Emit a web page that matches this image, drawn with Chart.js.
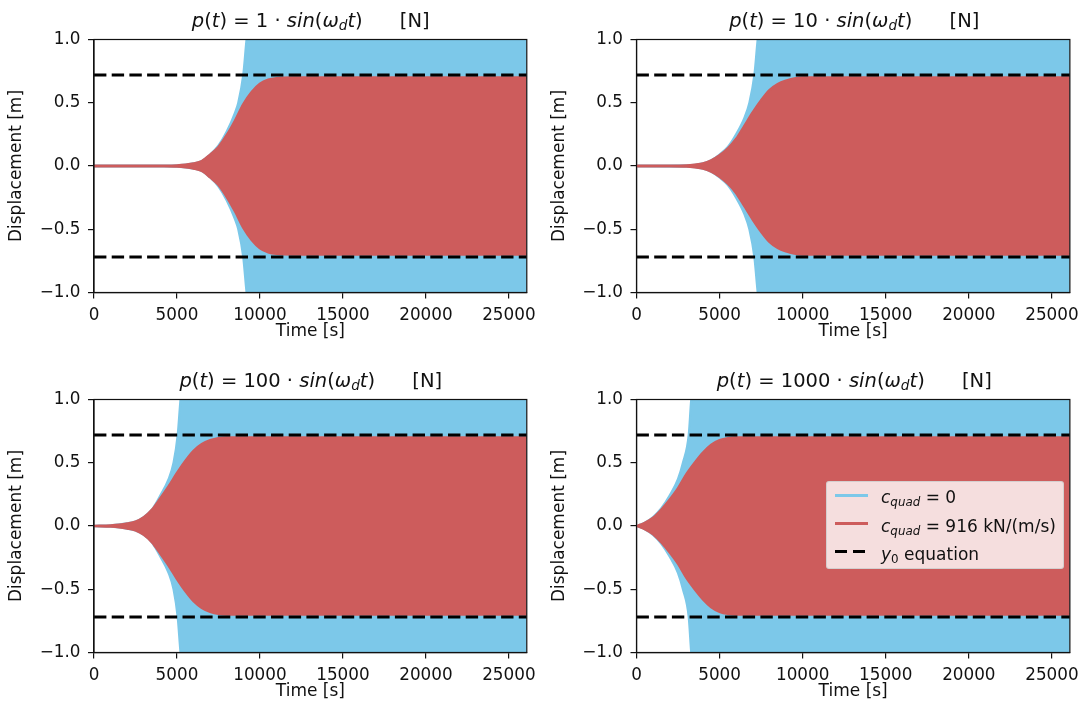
<!DOCTYPE html>
<html>
<head>
<meta charset="utf-8">
<title>Forced response with and without quadratic damping</title>
<script src="https://cdn.jsdelivr.net/npm/chart.js@4.4.1/dist/chart.umd.min.js"></script>
<style>
  html, body { margin: 0; padding: 0; background: #fff; }
  #figure { position: relative; width: 1086px; height: 715px; overflow: hidden;
            font-family: "DejaVu Sans", sans-serif; color: #111; }
  #figure canvas { position: absolute; }
  .title { position: absolute; width: 440px; text-align: center; font-size: 19.5px;
           line-height: 24px; white-space: pre; }
  .mi { font-style: italic; }
  sub { font-size: 70%; line-height: 0; vertical-align: -0.25em; }
  #legend { position: absolute; left: 826px; top: 481px; width: 238px; height: 88px;
            box-sizing: border-box; background: rgba(255,255,255,0.8);
            border: 1px solid rgba(204,204,204,0.8); border-radius: 3px; font-size: 17px; }
  .entry { position: absolute; left: 54px; line-height: 24px; height: 24px; white-space: pre; }
  .handle { position: absolute; height: 3px; }
</style>
</head>
<body>
<div id="figure"></div>
<script>
// ---- axes ----
const timeMax = 26080;
const xTicks = [0, 5000, 10000, 15000, 20000, 25000];
const xTickLabels = ['0', '5000', '10000', '15000', '20000', '25000'];
const yTicks = [-1, -0.5, 0, 0.5, 1];
const yTickLabels = ['\u22121.0', '\u22120.5', '0.0', '0.5', '1.0'];

// ---- load amplitudes of p(t) = P0 · sin(ω_d t) ----
const forceAmplitudes = ['1', '10', '100', '1000'];

// steady-state amplitude from the y0 equation [m]
const y0Levels = [0.72, 0.72, 0.72, 0.72];

// response envelope (amplitude, m) with c_quad = 916 kN/(m/s)
const time1Damped = [0, 2000, 4000, 5000, 5500, 6000, 6500, 7000, 7500, 8000, 8500, 9000, 9500, 10000, 10500, 11000, 12000, 14000, 26080];
const amp1Damped  = [0.002, 0.002, 0.003, 0.005, 0.01, 0.02, 0.04, 0.09, 0.15, 0.245, 0.36, 0.49, 0.585, 0.65, 0.682, 0.695, 0.70, 0.70, 0.70];

const time2Damped = [0, 2000, 3000, 3500, 4000, 4500, 5000, 5500, 6000, 6500, 7000, 7500, 8000, 8500, 9000, 9500, 10000, 12000, 26080];
const amp2Damped  = [0.002, 0.002, 0.004, 0.01, 0.02, 0.045, 0.085, 0.14, 0.215, 0.32, 0.425, 0.52, 0.6, 0.648, 0.675, 0.692, 0.70, 0.70, 0.70];

const time3Damped = [0, 1000, 1500, 2000, 2500, 3000, 3500, 4000, 4500, 5000, 5500, 6000, 6500, 7000, 7500, 8000, 10000, 26080];
const amp3Damped  = [0.001, 0.005, 0.01, 0.02, 0.035, 0.07, 0.13, 0.22, 0.315, 0.42, 0.515, 0.595, 0.648, 0.678, 0.695, 0.70, 0.70, 0.70];

const time4Damped = [0, 250, 500, 1000, 1500, 2000, 2500, 3000, 3500, 4000, 4500, 5000, 5500, 6000, 8000, 26080];
const amp4Damped  = [0, 0.01, 0.025, 0.065, 0.13, 0.21, 0.30, 0.41, 0.50, 0.58, 0.642, 0.678, 0.695, 0.70, 0.70, 0.70];

// response envelope (amplitude, m) with c_quad = 0
const time1Free = [0, 4000, 5000, 6000, 6500, 7000, 7500, 8000, 8500, 8700, 9000, 9200, 9500, 10500, 26080];
const amp1Free  = [0.002, 0.003, 0.005, 0.02, 0.04, 0.09, 0.16, 0.27, 0.42, 0.5, 0.72, 1.0, 1.3, 1.7, 3.0];

const time2Free = [0, 3000, 4000, 4500, 5000, 5500, 6000, 6500, 6800, 7100, 7300, 7600, 9000, 26080];
const amp2Free  = [0.002, 0.004, 0.02, 0.045, 0.09, 0.15, 0.25, 0.38, 0.5, 0.72, 1.0, 1.3, 1.8, 3.0];

const time3Free = [0, 1000, 2000, 2500, 3000, 3500, 4000, 4500, 4800, 5050, 5220, 5500, 7000, 26080];
const amp3Free  = [0.001, 0.005, 0.02, 0.035, 0.07, 0.13, 0.24, 0.37, 0.5, 0.72, 1.0, 1.3, 1.8, 3.0];

const time4Free = [0, 500, 1000, 1500, 2000, 2500, 2800, 3150, 3300, 3600, 5000, 26080];
const amp4Free  = [0, 0.025, 0.07, 0.14, 0.24, 0.37, 0.5, 0.72, 1.0, 1.3, 1.8, 3.0];

// ---- styling ----
const BLUE = 'rgb(124, 200, 233)';
const RED = 'rgb(205, 92, 92)';
const INK = '#111';
const TICK_FONT = { family: 'DejaVu Sans', size: 16.8 };
const LABEL_FONT = { family: 'DejaVu Sans', size: 17 };
const X_AXIS_H = 53.6;
const PAD_LEFT = 2.4;

const panels = [
  { box: { x: 0,   y: 0,   w: 543, h: 357 }, area: { L: 94,    T: 39.5,  R: 527.5, B: 292.5 },
    tD: time1Damped, aD: amp1Damped, tF: time1Free, aF: amp1Free },
  { box: { x: 543, y: 0,   w: 543, h: 357 }, area: { L: 636.5, T: 39.5,  R: 1072,  B: 292.5 },
    tD: time2Damped, aD: amp2Damped, tF: time2Free, aF: amp2Free },
  { box: { x: 0,   y: 357, w: 543, h: 358 }, area: { L: 94,    T: 399.5, R: 527.5, B: 652.5 },
    tD: time3Damped, aD: amp3Damped, tF: time3Free, aF: amp3Free },
  { box: { x: 543, y: 357, w: 543, h: 358 }, area: { L: 636.5, T: 399.5, R: 1072,  B: 652.5 },
    tD: time4Damped, aD: amp4Damped, tF: time4Free, aF: amp4Free }
];

// upper (+1) or lower (-1) edge of an oscillation envelope
function envelope(times, amps, side) {
  return times.map((t, i) => ({ x: t, y: side * amps[i] }));
}

// all four spines drawn over the data
const framePlugin = {
  id: 'frame',
  afterDatasetsDraw(chart) {
    const { ctx, chartArea: a } = chart;
    ctx.save();
    ctx.strokeStyle = INK;
    ctx.lineWidth = 1.2;
    ctx.strokeRect(a.left, a.top, a.right - a.left, a.bottom - a.top);
    ctx.restore();
  }
};

const fig = document.getElementById('figure');

panels.forEach((p, k) => {
  const canvas = document.createElement('canvas');
  canvas.width = p.box.w; canvas.height = p.box.h;
  canvas.style.left = p.box.x + 'px'; canvas.style.top = p.box.y + 'px';
  canvas.style.width = p.box.w + 'px'; canvas.style.height = p.box.h + 'px';
  fig.appendChild(canvas);

  const y0 = y0Levels[k];
  const common = { pointRadius: 0, pointHoverRadius: 0, clip: 0, cubicInterpolationMode: 'monotone' };
  const datasets = [
    { ...common, label: 'y0 equation', data: [{ x: 0, y: y0 }, { x: timeMax, y: y0 }],
      borderColor: '#000', borderWidth: 3, borderDash: [12.4, 5.3], borderCapStyle: 'butt', fill: false, order: 0 },
    { ...common, label: 'y0 equation (lower)', data: [{ x: 0, y: -y0 }, { x: timeMax, y: -y0 }],
      borderColor: '#000', borderWidth: 3, borderDash: [12.4, 5.3], borderCapStyle: 'butt', fill: false, order: 0 },
    { ...common, label: 'c_quad = 916 kN/(m/s)', data: envelope(p.tD, p.aD, 1),
      borderColor: RED, backgroundColor: RED, borderWidth: 2.4, fill: '+1', order: 1 },
    { ...common, label: 'c_quad = 916 kN/(m/s) (lower)', data: envelope(p.tD, p.aD, -1),
      borderColor: RED, backgroundColor: RED, borderWidth: 2.4, fill: false, order: 1 },
    { ...common, label: 'c_quad = 0', data: envelope(p.tF, p.aF, 1),
      borderColor: BLUE, backgroundColor: BLUE, borderWidth: 2.4, fill: '+1', order: 2 },
    { ...common, label: 'c_quad = 0 (lower)', data: envelope(p.tF, p.aF, -1),
      borderColor: BLUE, backgroundColor: BLUE, borderWidth: 2.4, fill: false, order: 2 }
  ];

  const axisLine = { display: true, color: INK, width: 1.2 };
  const tickMarks = { display: true, drawOnChartArea: false, drawTicks: true, tickLength: 6,
                      lineWidth: 1.2, color: INK };

  new Chart(canvas, {
    type: 'line',
    data: { datasets },
    options: {
      responsive: false,
      animation: false,
      devicePixelRatio: 1,
      events: [],
      layout: {
        padding: {
          left: PAD_LEFT,
          top: p.area.T - p.box.y,
          right: p.box.x + p.box.w - p.area.R,
          bottom: p.box.y + p.box.h - p.area.B - X_AXIS_H
        }
      },
      plugins: { legend: { display: false }, tooltip: { enabled: false }, title: { display: false } },
      scales: {
        x: {
          type: 'linear', min: 0, max: timeMax,
          afterBuildTicks: s => { s.ticks = xTicks.map(v => ({ value: v })); },
          afterFit: s => { s.height = X_AXIS_H; },
          ticks: { autoSkip: false, maxRotation: 0, padding: 6.8, color: INK, font: TICK_FONT,
                   callback: (v, i) => xTickLabels[i] },
          grid: tickMarks, border: axisLine,
          title: { display: true, text: 'Time [s]', color: INK, font: LABEL_FONT, padding: { top: 4, bottom: 4 } }
        },
        y: {
          type: 'linear', min: -1, max: 1,
          afterBuildTicks: s => { s.ticks = yTicks.map(v => ({ value: v })); },
          afterFit: s => { s.width = p.area.L - p.box.x - PAD_LEFT; },
          ticks: { autoSkip: false, padding: 7.5, color: INK, font: TICK_FONT,
                   callback: (v, i) => yTickLabels[i] },
          grid: tickMarks, border: axisLine,
          title: { display: true, text: 'Displacement [m]', color: INK, font: LABEL_FONT, padding: { top: 4, bottom: 4 } }
        }
      }
    },
    plugins: [framePlugin]
  });

  // panel title: p(t) = P0 · sin(ω_d t)   [N]
  const title = document.createElement('div');
  title.className = 'title';
  const cx = (p.area.L + p.area.R) / 2;
  const baseline = p.area.T - 12;
  title.style.left = (cx - 220) + 'px';
  title.style.top = (baseline - 18.8) + 'px';
  title.innerHTML = '<span class="mi">p</span>(<span class="mi">t</span>) = ' + forceAmplitudes[k] +
    ' \u00b7 <span class="mi">sin</span>(<span class="mi">\u03c9<sub>d</sub>t</span>)      [N]';
  fig.appendChild(title);
});

// legend (lower-right panel)
const legend = document.createElement('div');
legend.id = 'legend';
legend.innerHTML =
  '<div class="handle" style="left:8px;top:11.5px;width:33px;background:' + BLUE + '"></div>' +
  '<div class="entry" style="top:3.4px"><span class="mi">c<sub>quad</sub></span> = 0</div>' +
  '<div class="handle" style="left:8px;top:39.9px;width:33px;background:' + RED + '"></div>' +
  '<div class="entry" style="top:31.6px"><span class="mi">c<sub>quad</sub></span> = 916 kN/(m/s)</div>' +
  '<div class="handle" style="left:8px;top:68.2px;width:12.4px;background:#000"></div>' +
  '<div class="handle" style="left:25.7px;top:68.2px;width:12.4px;background:#000"></div>' +
  '<div class="entry" style="top:59.8px"><span class="mi">y</span><sub>0</sub> equation</div>';
fig.appendChild(legend);
</script>
</body>
</html>
